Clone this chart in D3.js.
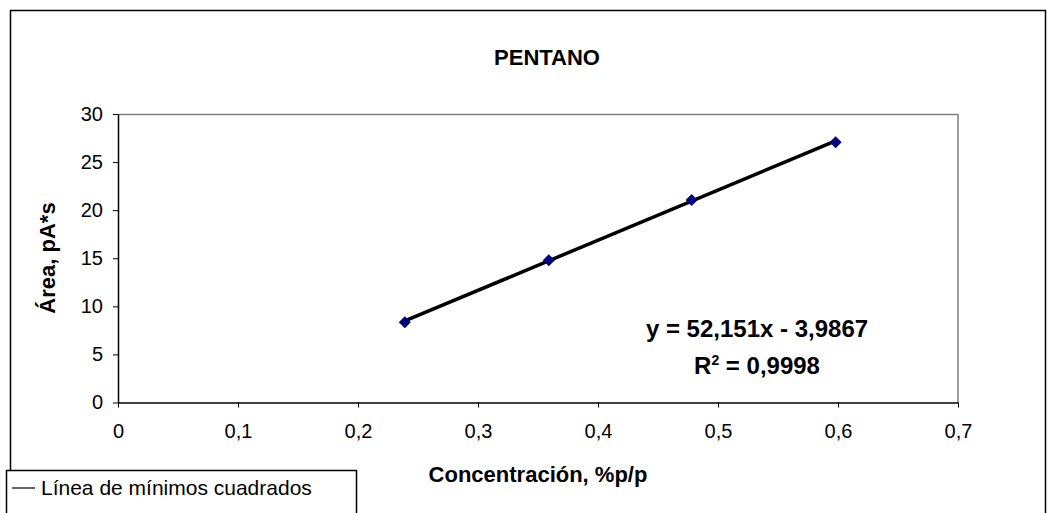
<!DOCTYPE html>
<meta charset="utf-8">
<style>
body { margin: 0; background: #fff; }
svg { font-family: "Liberation Sans", Arial, sans-serif; }
.tick text { font-size: 20px; fill: #000; }
.titles { font-size: 22px; font-weight: bold; }
</style>
<body>
<script src="https://cdn.jsdelivr.net/npm/d3@7"></script>
<script>

// data
var concentracion = [0.239, 0.359, 0.478, 0.598];
var area = [8.35, 14.8, 21.05, 27.05];
var xTicks = [0, 0.1, 0.2, 0.3, 0.4, 0.5, 0.6, 0.7];
var yTicks = [0, 5, 10, 15, 20, 25, 30];
var slope = 52.151, intercept = -3.9867;

var W = 1047, H = 513;
var margin = {top: 114, left: 118, right: W - 958, bottom: H - 402.5},
    width = W - margin.left - margin.right,
    height = H - margin.top - margin.bottom;

var svg = d3.select("body").append("svg")
    .attr("width", W)
    .attr("height", H);

// outer frame (runs off the bottom)
svg.append("rect")
    .attr("x", 10.5).attr("y", 10.5)
    .attr("width", 1035).attr("height", 520)
    .attr("fill", "none").attr("stroke", "#000").attr("stroke-width", 1.5);

var g = svg.append("g")
    .attr("transform", "translate(" + margin.left + "," + margin.top + ")");

var x = d3.scaleLinear().domain([0, 0.7]).range([0, width]);
var y = d3.scaleLinear().domain([0, 30]).range([height, 0]);

var fmt = function(d) { return String(d).replace(".", ","); };

// top / right border of plot area
g.append("path")
    .attr("d", "M0,0.5H" + width + "V" + height)
    .attr("fill", "none").attr("stroke", "#808080").attr("stroke-width", 1.5);

g.append("g")
    .attr("transform", "translate(0," + height + ")")
    .call(d3.axisBottom(x).tickValues(xTicks).tickFormat(fmt).tickSize(5).tickSizeOuter(0).tickPadding(16))
    .call(function(a) { a.select(".domain").attr("stroke-width", 1.5); });

g.append("g")
    .call(d3.axisLeft(y).tickValues(yTicks).tickSize(5).tickSizeOuter(0).tickPadding(10))
    .call(function(a) { a.select(".domain").attr("stroke-width", 1.5); });

// trend line
var x0 = d3.min(concentracion), x1 = d3.max(concentracion);
g.append("line")
    .attr("x1", x(x0)).attr("y1", y(slope * x0 + intercept))
    .attr("x2", x(x1)).attr("y2", y(slope * x1 + intercept))
    .attr("stroke", "#000").attr("stroke-width", 3.5);

// markers
g.selectAll(".pt")
    .data(concentracion)
  .enter().append("path")
    .attr("class", "pt")
    .attr("transform", function(d, i) { return "translate(" + x(d) + "," + y(area[i]) + ")"; })
    .attr("d", "M0,-6L6,0L0,6L-6,0Z")
    .attr("fill", "#000080");

// title
svg.append("text")
    .attr("class", "titles")
    .attr("x", 547).attr("y", 65)
    .attr("text-anchor", "middle")
    .text("PENTANO");

svg.append("text")
    .attr("class", "titles")
    .attr("transform", "translate(55,258) rotate(-90)")
    .attr("text-anchor", "middle")
    .text("Área, pA*s");

svg.append("text")
    .attr("class", "titles")
    .attr("x", 538).attr("y", 482)
    .attr("text-anchor", "middle")
    .text("Concentración, %p/p");

// equation
svg.append("text")
    .attr("class", "titles")
    .style("font-size", "24px")
    .attr("x", 757).attr("y", 337)
    .attr("text-anchor", "middle")
    .text("y = 52,151x - 3,9867");

var r2 = svg.append("text")
    .attr("class", "titles")
    .style("font-size", "24px")
    .attr("x", 757).attr("y", 374)
    .attr("text-anchor", "middle");
r2.append("tspan").text("R");
r2.append("tspan").attr("dy", -9).style("font-size", "14px").text("2");
r2.append("tspan").attr("dy", 9).text(" = 0,9998");

// legend
svg.append("rect")
    .attr("x", 6.5).attr("y", 470.5)
    .attr("width", 350).attr("height", 60)
    .attr("fill", "#fff").attr("stroke", "#000").attr("stroke-width", 1.5);
svg.append("line")
    .attr("x1", 12).attr("x2", 35).attr("y1", 488).attr("y2", 488)
    .attr("stroke", "#000").attr("stroke-width", 1.2);
svg.append("text")
    .attr("x", 41).attr("y", 495)
    .style("font-size", "21px")
    .text("Línea de mínimos cuadrados");

</script>
</body>
